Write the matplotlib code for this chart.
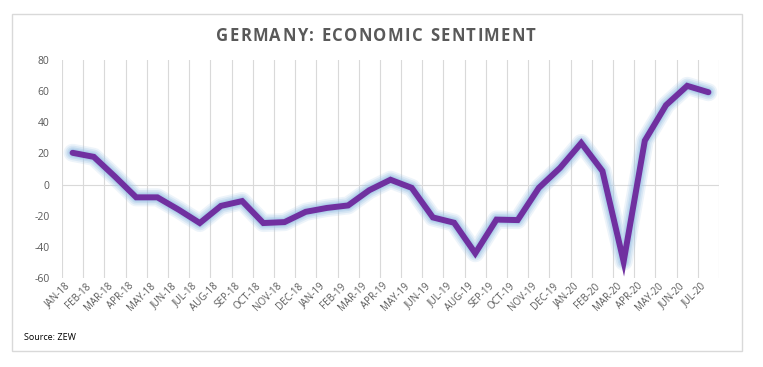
import matplotlib
matplotlib.use("Agg")
import matplotlib.pyplot as plt
from matplotlib.patches import Rectangle

months = ["JAN-18", "FEB-18", "MAR-18", "APR-18", "MAY-18", "JUN-18", "JUL-18", "AUG-18",
          "SEP-18", "OCT-18", "NOV-18", "DEC-18", "JAN-19", "FEB-19", "MAR-19", "APR-19",
          "MAY-19", "JUN-19", "JUL-19", "AUG-19", "SEP-19", "OCT-19", "NOV-19", "DEC-19",
          "JAN-20", "FEB-20", "MAR-20", "APR-20", "MAY-20", "JUN-20", "JUL-20"]
sentiment = [20.4, 17.8, 5.1, -8.2, -8.2, -16.1, -24.7, -13.7, -10.6, -24.7, -24.1, -17.5,
             -15.0, -13.4, -3.6, 3.1, -2.1, -21.1, -24.5, -44.1, -22.5, -22.8, -2.1, 10.7,
             26.7, 8.7, -49.5, 28.2, 51.0, 63.4, 59.3]
y_ticks = [-60, -40, -20, 0, 20, 40, 60, 80]
title = "GERMANY: ECONOMIC SENTIMENT"

grey_text = "#595959"
grid_col = "#d9d9d9"


def spaced_text(fig, text, x_center, y, tracking, **kw):
    """Draw text char by char with extra letter spacing (pixels), centred on x_center."""
    r = fig.canvas.get_renderer()
    widths = []
    for ch in text:
        t = fig.text(0, 0, ch if ch != " " else "n", **kw)
        w = t.get_window_extent(r).width
        if ch == " ":
            w *= 0.5
        widths.append(w)
        t.remove()
    total = sum(widths) + tracking * (len(text) - 1)
    x = x_center * fig.bbox.width - total / 2
    for ch, w in zip(text, widths):
        if ch != " ":
            fig.text(x / fig.bbox.width, y, ch, ha="left", va="center", **kw)
        x += w + tracking


fig = plt.figure(figsize=(7.63, 3.67), dpi=100)
fig.patches.append(Rectangle((12 / 763, 1 - 351 / 367), 730 / 763, 337 / 367,
                             transform=fig.transFigure, fill=False,
                             edgecolor=grid_col, linewidth=1.0))

ax = fig.add_axes([62 / 763, 1 - 278 / 367, 657 / 763, 218 / 367])
x = list(range(len(months)))

# soft blue glow under the line
for lw, a in [(13, 0.18), (10.5, 0.25), (8, 0.35), (6, 0.45)]:
    ax.plot(x, sentiment, color="#9dc3e6", linewidth=lw, alpha=a,
            solid_joinstyle="round", solid_capstyle="round", zorder=2)
ax.plot(x, sentiment, color="#7030a0", linewidth=4.3,
        solid_joinstyle="miter", solid_capstyle="round", zorder=3)

ax.set_xlim(-0.5, len(months) - 0.5)
ax.set_ylim(-60, 80)
ax.set_yticks(y_ticks)
ax.set_yticklabels([str(v) for v in y_ticks], color=grey_text, fontsize=7.5,
                   family="Open Sans")
ax.tick_params(axis="y", length=0, pad=9)

ax.set_xticks(x)
ax.set_xticklabels(months, rotation=45, ha="right", va="top", rotation_mode="default",
                   fontsize=7, color=grey_text, family="Open Sans")
ax.tick_params(axis="x", length=0, pad=2)

for b in [i - 0.5 for i in range(len(months) + 1)]:
    ax.axvline(b, color=grid_col, linewidth=0.8, zorder=1)
ax.axhline(0, color=grid_col, linewidth=0.8, zorder=1)

for s in ax.spines.values():
    s.set_visible(False)

spaced_text(fig, title, 376 / 763, 1 - 36 / 367, 1.3,
            fontsize=12, fontweight="bold", color=grey_text, family="Open Sans")
fig.text(24 / 763, 1 - 337 / 367, "Source: ZEW", ha="left", va="center",
         fontsize=6.5, color="black", family="Open Sans")

fig.savefig("out.png", dpi=100)
